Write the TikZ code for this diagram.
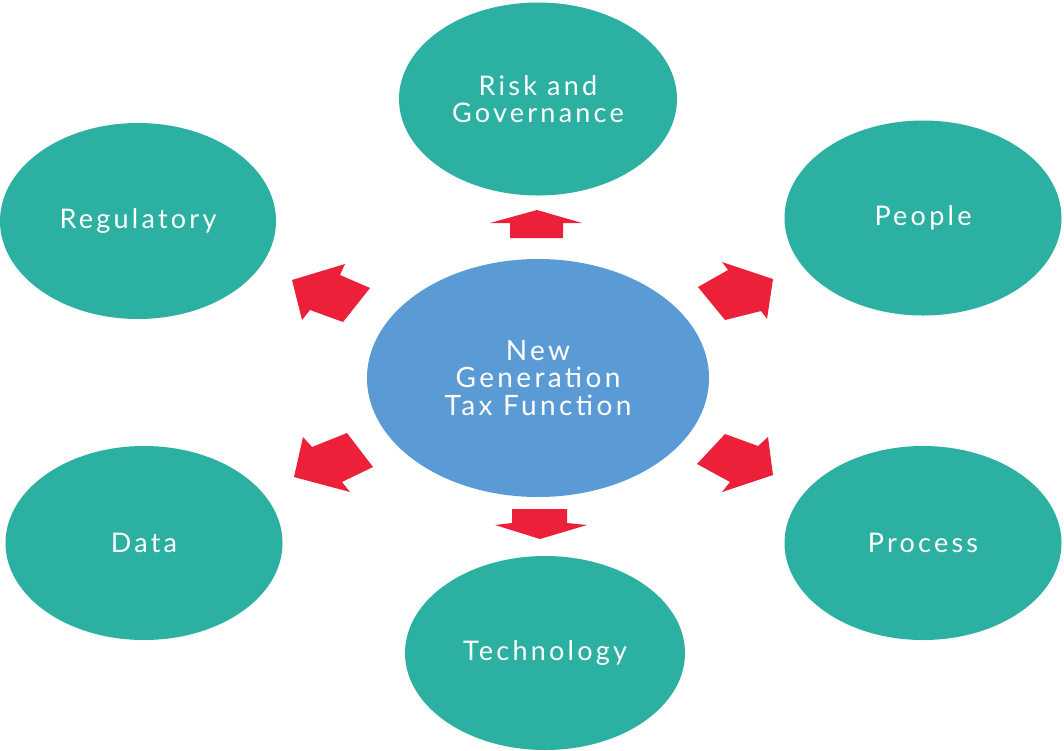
\documentclass[tikz,border=0pt]{standalone}
\usepackage{fontspec}
\setmainfont{Lato}[LetterSpace=12]
\usetikzlibrary{shapes.geometric}
\definecolor{teal1}{RGB}{44,176,161}
\definecolor{blue1}{RGB}{91,155,213}
\definecolor{red1}{RGB}{236,32,56}
\tikzset{
  bubble/.style={ellipse, fill=teal1, draw=none, inner sep=0pt, text=white,
    font=\fontsize{27}{27}\selectfont, align=center},
  hub/.style={ellipse, fill=blue1, draw=none, inner sep=0pt, text=white,
    font=\fontsize{28}{27.5}\selectfont, align=center},
  blockarrow/.style={fill=red1, draw=none}
}
\begin{document}
\begin{tikzpicture}[x=1pt,y=-1pt]
\useasboundingbox (0,0) rectangle (1064,750);
\fill[white] (0,0) rectangle (1064,750);
% nodes
\node[hub, minimum width=342pt, minimum height=238pt] (hub) at (538,378) {New\\Generation\\Tax Function};
\node[bubble, minimum width=278pt, minimum height=193pt] (risk) at (538,99) {Risk and\\Governance};
\node[bubble, minimum width=276pt, minimum height=196pt] (reg) at (138,221) {Regulatory};
\node[bubble, minimum width=277pt, minimum height=195pt] (people) at (923,218) {People};
\node[bubble, minimum width=277pt, minimum height=194pt] (data) at (144,543) {Data};
\node[bubble, minimum width=277pt, minimum height=194pt] (process) at (923,543) {Process};
\node[bubble, minimum width=280pt, minimum height=194pt] (tech) at (545,653) {Technology};
% block arrows
\fill[blockarrow] (537,210) -- (582,223) -- (563,223) -- (563,238) -- (510,238) -- (510,223) -- (490,223) -- cycle;
\fill[blockarrow] (512,509) -- (567,509) -- (567,523) -- (587,525) -- (540,539) -- (495,525) -- (512,523) -- cycle;
\fill[blockarrow] (292,280) -- (345,264) -- (340,275) -- (370,288) -- (343,322) -- (310,310) -- (302,320) -- cycle;
\fill[blockarrow] (698,287) -- (728,270) -- (722,262) -- (773,279) -- (767,319) -- (761,311) -- (725,320) -- cycle;
\fill[blockarrow] (294,477) -- (303,437) -- (312,447) -- (347,433) -- (373,467) -- (342,482) -- (350,492) -- cycle;
\fill[blockarrow] (725,434) -- (758,446) -- (768,437) -- (773,475) -- (722,492) -- (730,482) -- (697,464) -- cycle;
\end{tikzpicture}
\end{document}
